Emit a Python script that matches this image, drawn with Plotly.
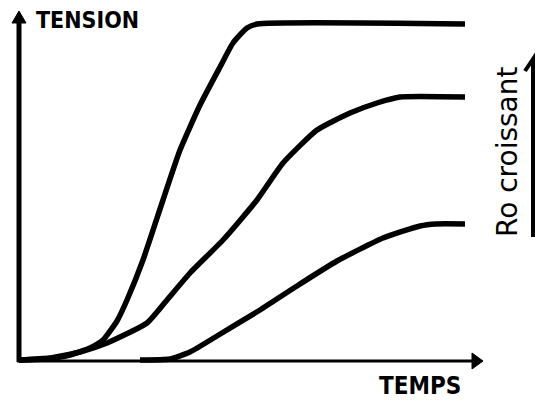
"""Courbes de tension en fonction du temps (schema)"""

import plotly.graph_objects as go

# temps / tension, origine au coin des axes (unites arbitraires)
temps_1 = [0, 26, 51, 71, 84, 98, 108, 124, 144, 161, 181, 201, 214, 228, 238, 446]
tension_1 = [1, 2, 6, 13, 21, 40, 61, 101, 161, 211, 256, 294, 318, 333, 337, 337]

temps_2 = [0, 31, 61, 88, 128, 148, 171, 204, 238, 264, 298, 331, 358, 381, 446]
tension_2 = [1, 3, 9, 18, 38, 61, 88, 121, 161, 198, 231, 248, 258, 264, 264]

temps_3 = [121, 151, 171, 198, 241, 281, 318, 364, 401, 417, 446]
tension_3 = [1, 2, 9, 25, 51, 77, 100, 123, 135, 137, 137]

courbes = [(temps_1, tension_1), (temps_2, tension_2), (temps_3, tension_3)]

POLICE_TITRE = "DejaVu Sans Condensed, Liberation Sans Narrow, DejaVu Sans"


def plot_tension() -> go.Figure:
    fig = go.Figure()

    for t, v in courbes:
        fig.add_trace(go.Scatter(
            x=t, y=v,
            mode="lines",
            line=dict(color="black", width=5.5, shape="spline", smoothing=0.5),
            hoverinfo="skip",
        ))

    # axes dessines a la main, avec fleches
    fig.add_shape(type="line", x0=0, y0=-1, x1=0, y1=340,
                  line=dict(color="black", width=5))
    fig.add_shape(type="path", path="M -7,338 L 7,338 L 0,350 Z",
                  fillcolor="black", line=dict(color="black", width=1))
    fig.add_shape(type="line", x0=-2, y0=0, x1=456, y1=0,
                  line=dict(color="black", width=3))
    fig.add_shape(type="path", path="M 453,-8 L 453,8 L 464,0 Z",
                  fillcolor="black", line=dict(color="black", width=1))

    # fleche "Ro croissant" (demi-pointe a gauche)
    fig.add_shape(type="path", path="M 514,124 L 514,302 L 506,290",
                  line=dict(color="black", width=4))

    fig.add_annotation(x=68, y=341, text="<b>TENSION</b>", showarrow=False,
                       font=dict(family=POLICE_TITRE, size=23, color="black"))
    fig.add_annotation(x=401, y=-25, text="<b>TEMPS</b>", showarrow=False,
                       font=dict(family=POLICE_TITRE, size=24, color="black"))
    fig.add_annotation(x=488, y=209, text="Ro croissant", showarrow=False,
                       textangle=-90,
                       font=dict(family="DejaVu Sans", size=28, color="black"))

    fig.update_layout(
        width=539, height=402,
        margin=dict(l=0, r=0, t=0, b=0),
        paper_bgcolor="white", plot_bgcolor="white",
        showlegend=False,
        xaxis=dict(range=[-19, 520], visible=False, fixedrange=True),
        yaxis=dict(range=[-41, 361], visible=False, fixedrange=True),
    )
    return fig


fig = plot_tension()
# pas de marge de page autour du graphique
fig.write_html(
    "out.html",
    config={"displayModeBar": False},
    post_script="document.body.style.margin='0';document.body.style.overflow='hidden';",
)
